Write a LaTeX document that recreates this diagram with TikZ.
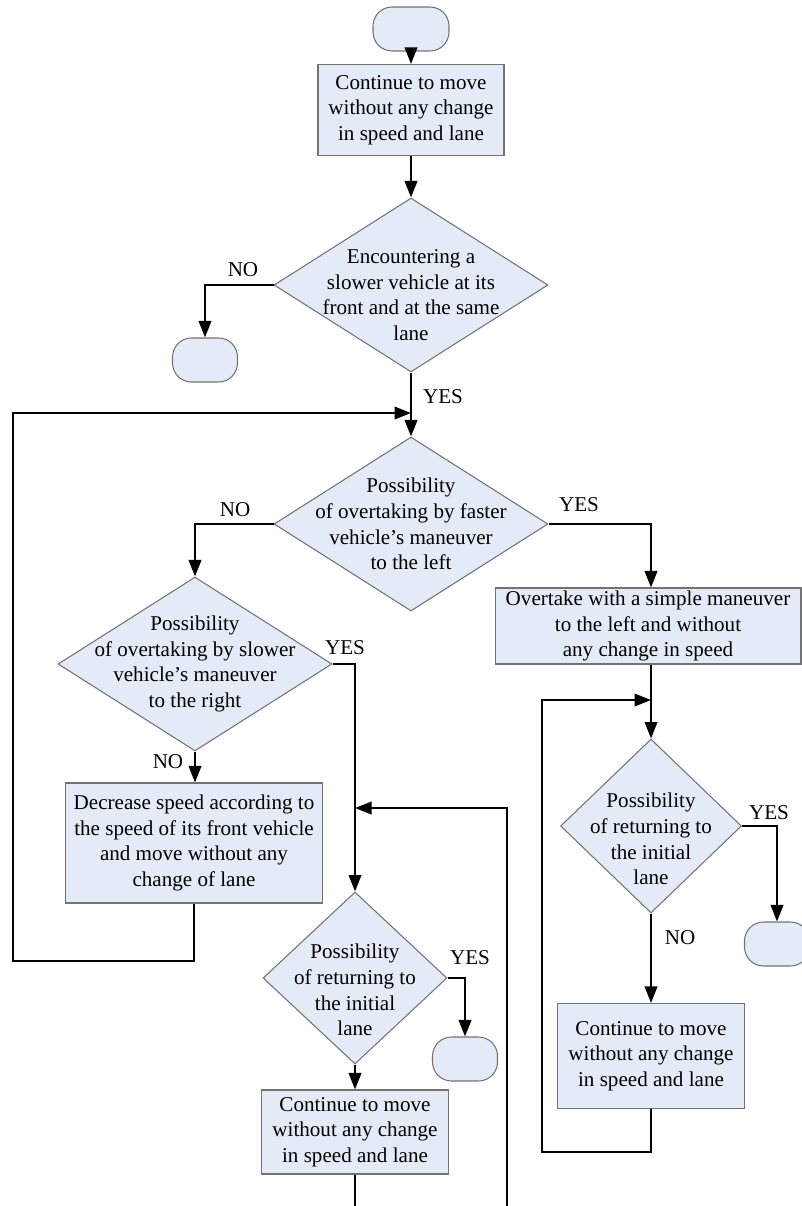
\documentclass[tikz,border=0pt]{standalone}
\usepackage{fontspec}
\setmainfont{Liberation Serif}
\definecolor{FlowFill}{HTML}{E4EAF6}
\definecolor{FlowLine}{HTML}{737373}
\usetikzlibrary{arrows.meta,shapes.geometric}
\tikzset{
  processNode/.style={draw=FlowLine, line width=0.6pt, fill=FlowFill, align=center, inner sep=0pt, font=\fontsize{12}{14.6}\selectfont},
  decisionNode/.style={diamond, draw=FlowLine, line width=0.6pt, fill=FlowFill, inner sep=0pt},
  decisionText/.style={align=center, inner sep=0pt, font=\fontsize{12}{14.6}\selectfont},
  terminalNode/.style={draw=FlowLine, line width=0.6pt, fill=FlowFill, rounded corners=0.38cm, minimum width=1.3cm, minimum height=0.88cm},
  flowEdge/.style={-{Triangle[length=3.3mm, width=2.5mm]}, line width=1.2pt},
  plainEdge/.style={line width=1.2pt},
  branchLabel/.style={inner sep=1pt, font=\fontsize{12}{14.6}\selectfont}
}

\begin{document}
\begin{tikzpicture}[x=0.02cm, y=-0.02cm]
\useasboundingbox (0,0) rectangle (801,1206);

% main column
\node[terminalNode, minimum width=1.52cm] (start) at (411,29) {};
\node[processNode, minimum width=3.72cm, minimum height=1.82cm] (moveA) at (411,110) {Continue to move\\without any change\\in speed and lane};
\node[decisionNode, minimum width=5.48cm, minimum height=3.48cm] (dec1) at (411,285) {};
\node[decisionText] (dec1t) at ([yshift=-0.2cm]dec1) {Encountering a\\slower vehicle at its\\front and at the same\\lane};
\node[terminalNode] (endA) at (205,360) {};
\node[decisionNode, minimum width=5.48cm, minimum height=3.48cm] (dec2) at (411,524) {};
\node[decisionText] (dec2t) at (dec2) {Possibility\\of overtaking by faster\\vehicle's maneuver\\to the left};

% left branch
\node[decisionNode, minimum width=5.48cm, minimum height=3.48cm] (dec3) at (195,664) {};
\node[decisionText] (dec3t) at (dec3) {Possibility\\of overtaking by slower\\vehicle's maneuver\\to the right};
\node[processNode, minimum width=5.14cm, minimum height=2.4cm] (slow) at (194,843) {Decrease speed according to\\the speed of its front vehicle\\and move without any\\change of lane};
\node[decisionNode, minimum width=3.68cm, minimum height=3.44cm] (dec4) at (355,978) {};
\node[decisionText] (dec4t) at ([yshift=-0.24cm]dec4) {Possibility\\of returning to\\the initial\\lane};
\node[terminalNode] (endB) at (465,1059) {};
\node[processNode, minimum width=3.74cm, minimum height=1.68cm] (moveB) at (355,1132) {Continue to move\\without any change\\in speed and lane};

% right branch
\node[processNode, minimum width=6.12cm, minimum height=1.52cm] (overtake) at (648,626) {Overtake with a simple maneuver\\to the left and without\\any change in speed};
\node[decisionNode, minimum width=3.62cm, minimum height=3.48cm] (dec5) at (651,826) {};
\node[decisionText] (dec5t) at ([yshift=-0.26cm]dec5) {Possibility\\of returning to\\the initial\\lane};
\node[terminalNode] (endC) at (777,944) {};
\node[processNode, minimum width=3.74cm, minimum height=2.1cm] (moveC) at (651,1056) {Continue to move\\without any change\\in speed and lane};

% loop corners and cut ends
\coordinate (loopA) at (13,961);
\coordinate (joinA) at (411,413);
\coordinate (cutB) at (355,1206);
\coordinate (loopB) at (507,1206);
\coordinate (joinB) at (355,808);
\coordinate (loopC) at (542,1152);
\coordinate (joinC) at (651,700);

% connectors
\draw[flowEdge] (start) -- (moveA);
\draw[flowEdge] (moveA) -- (dec1);
\draw[flowEdge] (dec1.west) -| (endA.north);
\draw[flowEdge] (dec1.south) -- (dec2.north);
\draw[flowEdge] (slow.south) |- (loopA) |- (joinA);
\draw[flowEdge] (dec2.west) -| (dec3.north);
\draw[flowEdge] (dec2.east) -| (dec5.north |- overtake.north);
\draw[flowEdge] (dec3.south) -- (dec3.south |- slow.north);
\draw[flowEdge] (dec3.east) -| (dec4.north);
\draw[flowEdge] (loopB) |- (joinB);
\draw[flowEdge] (dec4.east) -| (endB.north);
\draw[flowEdge] (dec4.south) -- (moveB.north);
\draw[plainEdge] (moveB.south) -- (cutB);
\draw[flowEdge] (overtake.south -| dec5.north) -- (dec5.north);
\draw[flowEdge] (moveC.south) |- (loopC) |- (joinC);
\draw[flowEdge] (dec5.east) -| (endC.north);
\draw[flowEdge] (dec5.south) -- (moveC.north);

% branch labels
\node[branchLabel] (noA) at (243,270) {NO};
\node[branchLabel] (yesA) at (443,397) {YES};
\node[branchLabel] (noB) at (235,510) {NO};
\node[branchLabel] (yesB) at (579,505) {YES};
\node[branchLabel] (yesC) at (345,648) {YES};
\node[branchLabel] (noC) at (168,762) {NO};
\node[branchLabel] (yesD) at (470,958) {YES};
\node[branchLabel] (yesE) at (769,813) {YES};
\node[branchLabel] (noE) at (680,938) {NO};
\end{tikzpicture}
\end{document}
